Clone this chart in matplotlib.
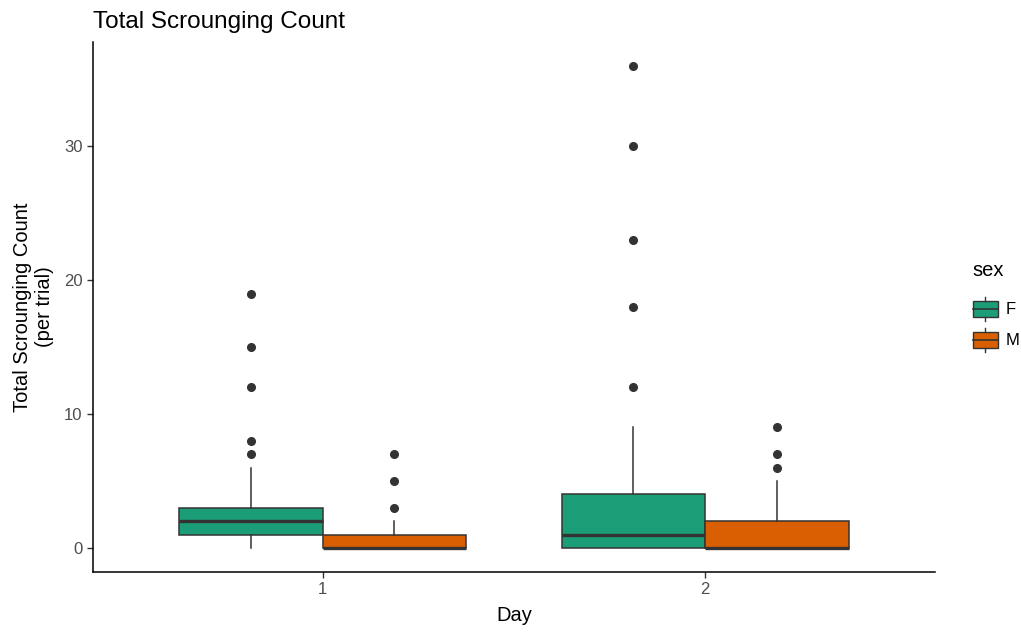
import matplotlib
matplotlib.use("Agg")
import matplotlib.pyplot as plt
from matplotlib.patches import Rectangle, Patch
from matplotlib.lines import Line2D
from matplotlib.legend_handler import HandlerPatch

plt.rcParams['font.family'] = ['Liberation Sans', 'DejaVu Sans']

# box summary per day, female then male
days = ["1", "2"]
sexes = ["F", "M"]
colors = {"F": "#1B9E77", "M": "#D95F02"}

q1 = {"F": [1, 0], "M": [0, 0]}
medians = {"F": [2, 1], "M": [0, 0]}
q3 = {"F": [3, 4], "M": [1, 2]}
whisker_lo = {"F": [0, 0], "M": [0, 0]}
whisker_hi = {"F": [6, 9], "M": [2, 5]}
outliers = {
    "F": [[7, 8, 12, 15, 19], [12, 18, 23, 30, 36]],
    "M": [[3, 5, 7], [6, 7, 9]],
}

edge = "#333333"


class BoxKeyHandler(HandlerPatch):
    # legend key drawn like a small boxplot
    def create_artists(self, legend, orig_handle, xdescent, ydescent,
                       width, height, fontsize, trans):
        x0, y0 = -xdescent, -ydescent
        pad = height * 0.17
        rect = Rectangle((x0, y0 + pad), width, height - 2 * pad,
                         facecolor=orig_handle.get_facecolor(), edgecolor=edge,
                         linewidth=1.0, transform=trans)
        cx = x0 + width / 2
        med = Line2D([x0, x0 + width], [y0 + height / 2] * 2, color=edge, lw=1.2, transform=trans)
        top = Line2D([cx, cx], [y0 + height - pad, y0 + height], color=edge, lw=1.0, transform=trans)
        bot = Line2D([cx, cx], [y0, y0 + pad], color=edge, lw=1.0, transform=trans)
        return [rect, med, top, bot]


fig = plt.figure(figsize=(10.21, 6.32), dpi=100)
ax = fig.add_axes([0.0911, 0.0949, 0.8244, 0.8386])

width = 0.375
for j, s in enumerate(sexes):
    stats = []
    positions = []
    for i in range(len(days)):
        stats.append({
            "q1": q1[s][i], "med": medians[s][i], "q3": q3[s][i],
            "whislo": whisker_lo[s][i], "whishi": whisker_hi[s][i],
            "fliers": outliers[s][i],
        })
        positions.append(i + 1 + (j - 0.5) * width)
    ax.bxp(stats, positions=positions, widths=width, patch_artist=True,
           showcaps=False,
           boxprops=dict(facecolor=colors[s], edgecolor=edge, linewidth=1.1),
           medianprops=dict(color=edge, linewidth=2.4, solid_capstyle="butt"),
           whiskerprops=dict(color=edge, linewidth=1.1),
           flierprops=dict(marker="o", markerfacecolor=edge, markeredgecolor=edge,
                           markersize=5.5))

ax.set_xlim(0.4, 2.6)
ax.set_ylim(-1.8, 37.8)
ax.set_xticks([1, 2])
ax.set_xticklabels(days)
ax.set_yticks([0, 10, 20, 30])
for side in ["top", "right"]:
    ax.spines[side].set_visible(False)
for side in ["left", "bottom"]:
    ax.spines[side].set_color("black")
    ax.spines[side].set_linewidth(1.1)
ax.tick_params(axis="both", direction="out", length=4, width=1.0, color="#333333",
               labelcolor="#4D4D4D", labelsize=12)

ax.set_xlabel("Day", fontsize=14.5, color="black", labelpad=6)
ax.set_ylabel("Total Scrounging Count\n(per trial)", fontsize=14.5, color="black",
              linespacing=1.2, labelpad=7)
ax.set_title("Total Scrounging Count", loc="left", fontsize=17.5, color="black", pad=10)

handles = [Patch(facecolor=colors[s], label=s) for s in sexes]
leg = fig.legend(handles=handles, title="sex", loc="center left",
                 bbox_to_anchor=(0.946, 0.515), frameon=False, fontsize=12,
                 title_fontsize=14.5, handler_map={Patch: BoxKeyHandler()},
                 handlelength=1.55, handleheight=1.8, handletextpad=0.45,
                 labelspacing=0.45, borderaxespad=0)
leg._legend_box.align = "left"
leg._legend_box.sep = 12

fig.savefig("out.png", dpi=100)
